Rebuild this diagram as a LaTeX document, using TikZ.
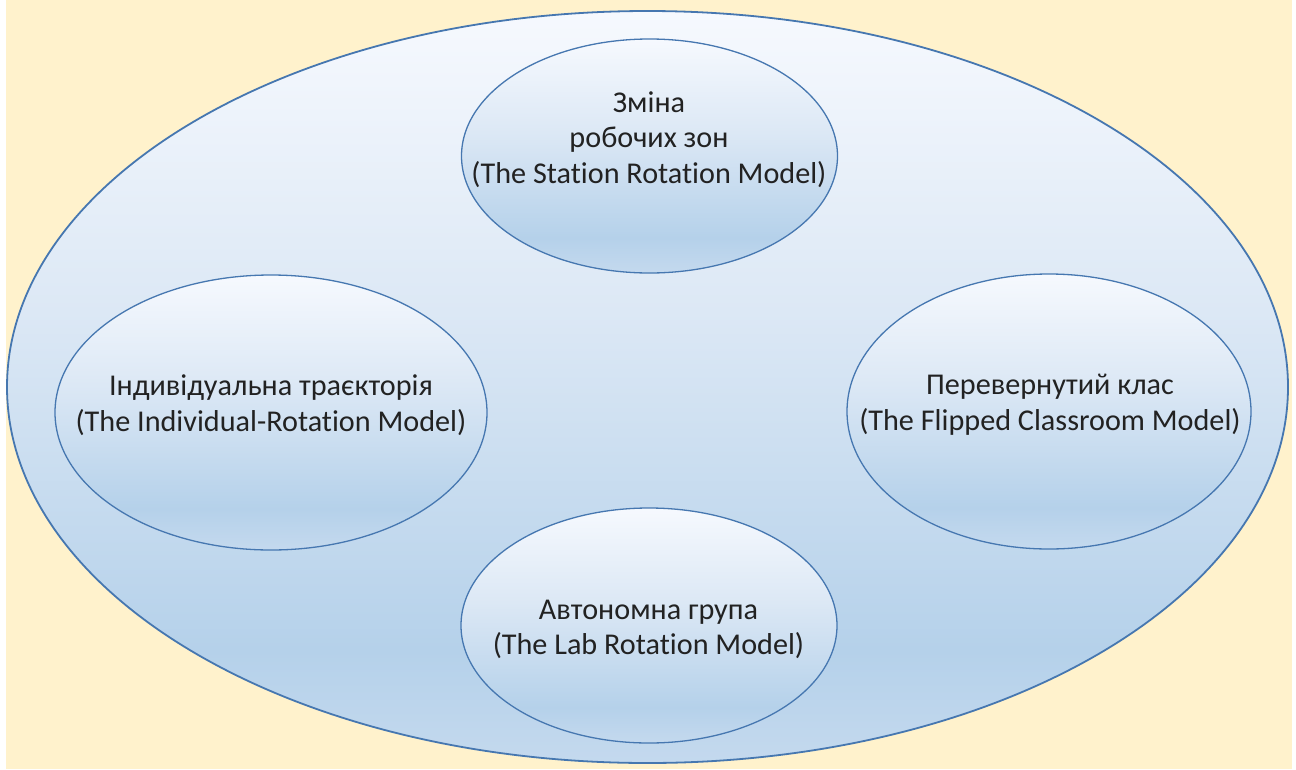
\documentclass[tikz,border=0pt]{standalone}
\usepackage{fontspec}
\setmainfont{Carlito}[Ligatures={NoCommon}]
\usetikzlibrary{shapes.geometric}
\definecolor{bgyellow}{HTML}{FFF2CC}
\definecolor{edgeblue}{HTML}{4677B0}
\definecolor{txtgray}{HTML}{222222}
\definecolor{shT}{HTML}{F6F9FE}
\definecolor{shM}{HTML}{DCE8F5}
\definecolor{shA}{HTML}{B5D1EA}
\definecolor{shB}{HTML}{C4D9EE}
\pgfdeclareverticalshading{ovalshade}{100bp}{color(0bp)=(shB); color(25bp)=(shB); color(32.5bp)=(shA); color(55bp)=(shM); color(75bp)=(shT); color(100bp)=(shT)}
\tikzset{
  oval/.style={ellipse, draw=edgeblue, line width=1.3pt, shading=ovalshade, inner sep=0pt, outer sep=0pt},
  bigoval/.style={oval, line width=1.8pt},
  label text/.style={text=txtgray, align=center, font=\fontsize{30.2}{35.5}\selectfont, inner sep=0pt}
}
\begin{document}
\begin{tikzpicture}[x=1pt,y=-1pt]
\useasboundingbox (0,0) rectangle (1296,769);
\fill[white] (0,0) rectangle (1296,769);
\fill[bgyellow] (6,0) rectangle (1292,769);
\node[bigoval, minimum width=1281pt, minimum height=752pt] (outer) at (647.5,387) {};
\node[oval, minimum width=376pt, minimum height=234pt] (station) at (649.5,156) {};
\node[oval, minimum width=432pt, minimum height=275pt] (individual) at (271,412.5) {};
\node[oval, minimum width=404pt, minimum height=275pt] (flipped) at (1049,411.5) {};
\node[oval, minimum width=376pt, minimum height=235pt] (lab) at (649,625.5) {};
\node[label text] (stationtext) at (649,139.5) {Зміна\\робочих зон\\(The Station Rotation Model)};
\node[label text] (individualtext) at (271,405) {Індивідуальна траєкторія\\(The Individual-Rotation Model)};
\node[label text] (flippedtext) at (1050,404.5) {Перевернутий клас\\(The Flipped Classroom Model)};
\node[label text] (labtext) at (648.5,629.5) {Автономна група\\(The Lab Rotation Model)};
\end{tikzpicture}
\end{document}
